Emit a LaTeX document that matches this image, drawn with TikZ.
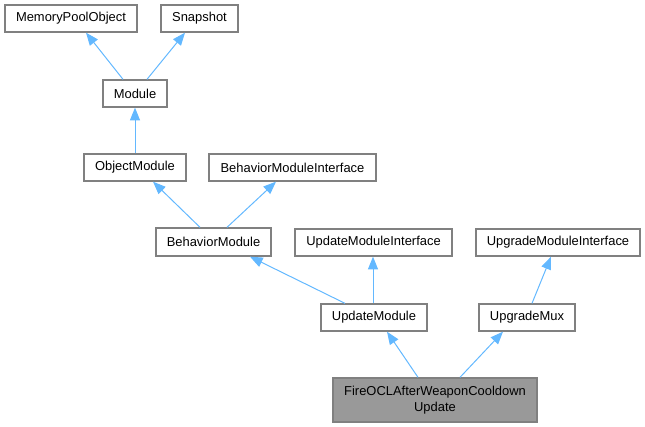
\documentclass[tikz,border=0pt]{standalone}
\usepackage{fontspec}
\setmainfont{Liberation Sans}
\usetikzlibrary{arrows.meta}
\definecolor{edgeblue}{HTML}{63B8FF}
\definecolor{boxline}{HTML}{808080}
\definecolor{grayfill}{HTML}{999999}
\begin{document}
\begin{tikzpicture}[x=0.75pt,y=-0.75pt,
  cls/.style={draw=boxline,line width=1pt,fill=white,inner sep=0pt,font=\fontsize{9.7}{11.5}\selectfont,align=center},
  inh/.style={draw=edgeblue,line width=0.75pt,-{Triangle[length=9.5pt,width=7.5pt,fill=edgeblue]}}]
\useasboundingbox (0,0) rectangle (645,427);
\newcommand{\bx}[6]{\node[cls,minimum width=(#4-#3)*0.75pt,minimum height=(#6-#5)*0.75pt] (#1) at ({(#3+#4)/2},{(#5+#6)/2}) {#2};}
\bx{mpo}{MemoryPoolObject}{5}{137}{5}{32}
\bx{snap}{Snapshot}{161}{238}{5}{32}
\bx{mod}{Module}{103}{167}{80}{107}
\bx{om}{ObjectModule}{84}{186}{154}{181}
\bx{bmi}{BehaviorModuleInterface}{209}{376}{154}{181}
\bx{bm}{BehaviorModule}{156}{271}{228}{256}
\bx{umi}{UpdateModuleInterface}{295}{452}{229}{256}
\bx{gmi}{UpgradeModuleInterface}{476}{640}{229}{256}
\bx{um}{UpdateModule}{321}{427}{304}{331}
\bx{mux}{UpgradeMux}{479}{575}{304}{331}
\node[cls,fill=grayfill,minimum width=204*0.75pt,minimum height=44*0.75pt] (fire) at (435,400) {FireOCLAfterWeaponCooldown\\Update};
\draw[inh] (mod.north -| 123,0) -- (mpo.south -| 86,0);
\draw[inh] (mod.north -| 147,0) -- (snap.south -| 185,0);
\draw[inh] (om.north -| 135,0) -- (mod.south -| 135,0);
\draw[inh] (bm.north -| 200,0) -- (om.south -| 153,0);
\draw[inh] (bm.north -| 227,0) -- (bmi.south -| 276,0);
\draw[inh] (um.north -| 345,0) -- (bm.south -| 250,0);
\draw[inh] (um.north -| 373,0) -- (umi.south -| 373,0);
\draw[inh] (mux.north -| 532,0) -- (gmi.south -| 551,0);
\draw[inh] (fire.north -| 418,0) -- (um.south -| 387,0);
\draw[inh] (fire.north -| 460,0) -- (mux.south -| 503,0);
\end{tikzpicture}
\end{document}
